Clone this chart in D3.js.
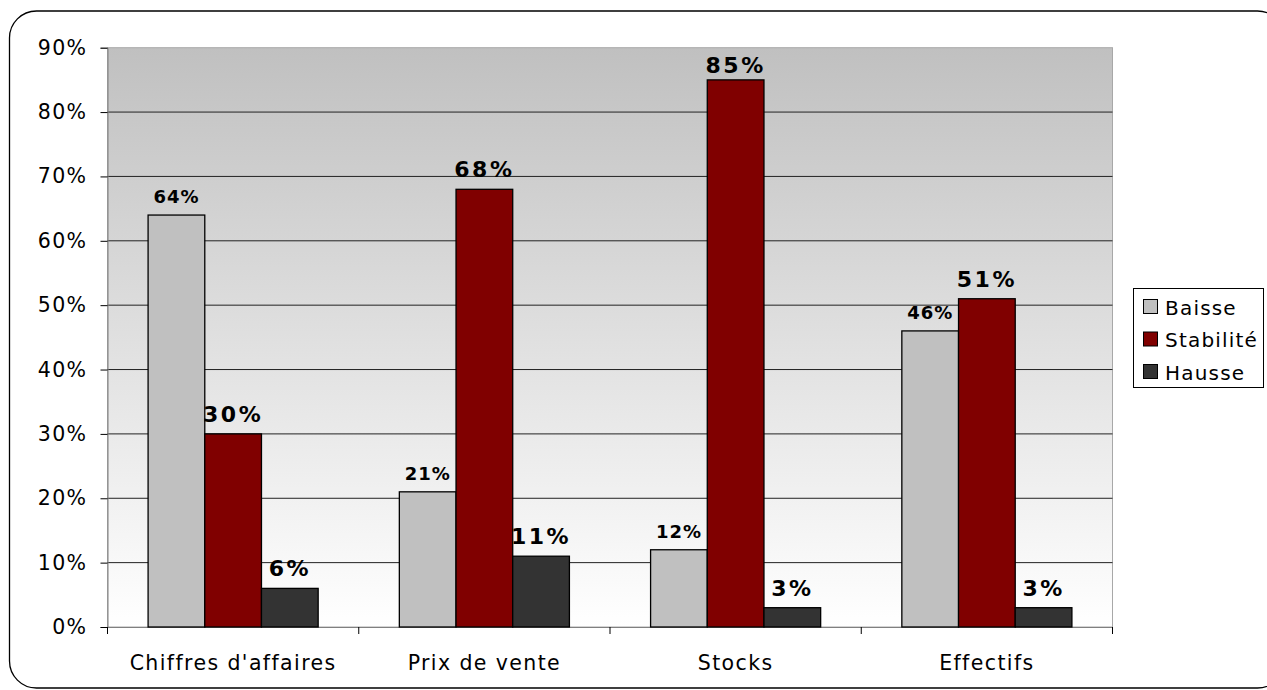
<!DOCTYPE html>
<html><head><meta charset="utf-8">
<script src="https://cdn.jsdelivr.net/npm/d3@7"></script>
<style>body{margin:0;background:#fff;} svg{display:block;font-family:"DejaVu Sans",Verdana,sans-serif;}</style>
</head><body>
<svg id="c" width="1267" height="690"></svg>
<script>
const categories = ["Chiffres d'affaires", "Prix de vente", "Stocks", "Effectifs"];
const seriesNames = ["Baisse", "Stabilité", "Hausse"];
const baisse = [64, 21, 12, 46];
const stabilite = [30, 68, 85, 51];
const hausse = [6, 11, 3, 3];
const yTicks = [0, 10, 20, 30, 40, 50, 60, 70, 80, 90];
const colors = ["#c0c0c0", "#800000", "#333333"];
const seriesValues = [baisse, stabilite, hausse];

const svg = d3.select("#c");
// outer rounded frame
svg.append("rect").attr("x", 9.5).attr("y", 11).attr("width", 1275).attr("height", 677)
  .attr("rx", 27).attr("ry", 27).attr("fill", "#fff").attr("stroke", "#000").attr("stroke-width", 1.3);

const L = 107.5, R = 1112.5, T = 47.7, B = 627;
const x = d3.scaleBand().domain(categories).range([L, R]).paddingInner(0).paddingOuter(0);
const y = d3.scaleLinear().domain([0, 90]).range([B, T]);
const xs = d3.scaleBand().domain(seriesNames).range([0, x.bandwidth()]).paddingInner(0).paddingOuter(0.716);

const defs = svg.append("defs");
const g = defs.append("linearGradient").attr("id", "bg").attr("x1", 0).attr("y1", 0).attr("x2", 0).attr("y2", 1);
g.append("stop").attr("offset", "0%").attr("stop-color", "#c0c0c0");
g.append("stop").attr("offset", "100%").attr("stop-color", "#ffffff");

svg.append("rect").attr("x", L).attr("y", T).attr("width", R - L).attr("height", B - T)
  .attr("fill", "url(#bg)").attr("stroke", "#a8a8a8").attr("stroke-width", 1);

// gridlines
svg.append("g").selectAll("line").data(yTicks.filter(d => d > 0 && d < 90)).join("line")
  .attr("x1", L).attr("x2", R).attr("y1", d => y(d)).attr("y2", d => y(d))
  .attr("stroke", "#222").attr("stroke-width", 1);

// y axis
const ya = svg.append("g").attr("transform", `translate(${L},0)`)
  .call(d3.axisLeft(y).tickValues(yTicks).tickFormat(d => d + "%").tickSize(7).tickPadding(13));
ya.select(".domain").attr("stroke", "#808080");
ya.selectAll(".tick line").attr("stroke", "#000");
ya.selectAll("text").attr("font-size", 20.5).attr("fill", "#000").attr("letter-spacing", "1.4px")
  .attr("font-family", "DejaVu Sans");

// x axis
const xa = svg.append("g").attr("transform", `translate(0,${B})`)
  .call(d3.axisBottom(x).tickSize(0).tickPadding(28));
xa.select(".domain").attr("stroke", "#808080");
xa.selectAll("text").attr("font-size", 20.5).attr("fill", "#000").attr("letter-spacing", "1.4px")
  .attr("font-family", "DejaVu Sans");
const bounds = [L].concat(categories.map(c => x(c) + x.bandwidth()));
svg.append("g").selectAll("line").data(bounds).join("line")
  .attr("x1", d => d).attr("x2", d => d).attr("y1", B).attr("y2", B + 7)
  .attr("stroke", "#000");

// bars
seriesNames.forEach((s, si) => {
  const vals = seriesValues[si];
  const gg = svg.append("g");
  gg.selectAll("rect").data(categories).join("rect")
    .attr("x", (c) => x(c) + xs(s))
    .attr("y", (c, i) => y(vals[i]))
    .attr("width", xs.bandwidth())
    .attr("height", (c, i) => B - y(vals[i]))
    .attr("fill", colors[si]).attr("stroke", "#000").attr("stroke-width", 1.3);
  gg.selectAll("text").data(categories).join("text")
    .attr("x", (c) => x(c) + xs(s) + xs.bandwidth() / 2)
    .attr("y", (c, i) => Math.max(y(vals[i]) - 12, 73))
    .attr("text-anchor", "middle")
    .attr("font-weight", "bold")
    .attr("font-size", si === 0 ? 18 : 22)
    .attr("letter-spacing", si === 0 ? "1px" : "2.5px")
    .attr("fill", "#000")
    .text((c, i) => vals[i] + "%");
});

// legend
const lg = svg.append("g");
lg.append("rect").attr("x", 1133.5).attr("y", 288.5).attr("width", 130).attr("height", 99)
  .attr("fill", "#fff").attr("stroke", "#000");
seriesNames.forEach((s, i) => {
  const cy = 307 + i * 32.5;
  lg.append("rect").attr("x", 1143.5).attr("y", cy - 7.5).attr("width", 14).attr("height", 14)
    .attr("fill", colors[i]).attr("stroke", "#000");
  lg.append("text").attr("x", 1165).attr("y", cy + 7.5).attr("font-size", 20)
    .attr("letter-spacing", "1.2px").attr("fill", "#000").text(s);
});
</script>
</body></html>
